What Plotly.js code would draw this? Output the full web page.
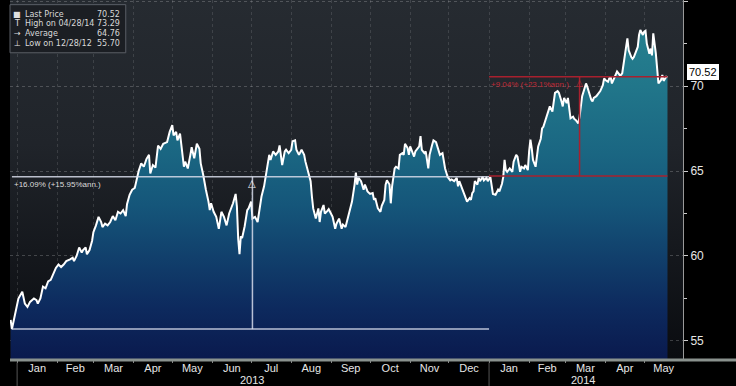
<!DOCTYPE html>
<html>
<head>
<meta charset="utf-8">
<script src="https://cdn.plot.ly/plotly-3.0.1.min.js"></script>
<style>
  html, body { margin: 0; padding: 0; background: #000; }
  #wrap { position: relative; width: 736px; height: 386px; overflow: hidden; }
  #bg { position: absolute; left: 10px; top: 0; width: 673px; height: 359px;
        background: linear-gradient(to bottom, #262b31 0%, #20242a 40%, #15181d 70%, #0a0c10 100%); }
  #chart { position: absolute; left: 0; top: 0; width: 736px; height: 386px; }
</style>
</head>
<body>
<div id="wrap"><div id="bg"></div><div id="chart"></div></div>
<script>
// ---------------- data ----------------
const dates = [
 '2012-12-27','2012-12-28',
 '2013-01-02','2013-01-05','2013-01-07','2013-01-09','2013-01-11','2013-01-14','2013-01-16','2013-01-17','2013-01-19','2013-01-21','2013-01-23','2013-01-25','2013-01-27','2013-01-29','2013-01-31',
 '2013-02-02','2013-02-04','2013-02-06','2013-02-08','2013-02-11','2013-02-13','2013-02-14','2013-02-16','2013-02-18','2013-02-20','2013-02-21','2013-02-23','2013-02-24','2013-02-26','2013-02-28',
 '2013-03-01','2013-03-03','2013-03-05','2013-03-07','2013-03-08','2013-03-10','2013-03-12','2013-03-14','2013-03-16','2013-03-18','2013-03-20','2013-03-22','2013-03-24','2013-03-26','2013-03-27','2013-03-29','2013-03-31',
 '2013-04-02','2013-04-03','2013-04-05','2013-04-07','2013-04-09','2013-04-11','2013-04-13','2013-04-14','2013-04-16','2013-04-18','2013-04-20','2013-04-22','2013-04-24','2013-04-27','2013-04-29',
 '2013-05-01','2013-05-02','2013-05-04','2013-05-05','2013-05-07','2013-05-08','2013-05-10','2013-05-11','2013-05-13','2013-05-15','2013-05-16','2013-05-18','2013-05-20','2013-05-22','2013-05-23','2013-05-25','2013-05-26','2013-05-27','2013-05-29','2013-05-30','2013-05-31',
 '2013-06-02','2013-06-04','2013-06-06','2013-06-07','2013-06-08','2013-06-10','2013-06-12','2013-06-14','2013-06-15','2013-06-17','2013-06-19','2013-06-20','2013-06-21','2013-06-22','2013-06-23','2013-06-24','2013-06-26','2013-06-28','2013-06-29',
 '2013-07-01','2013-07-02','2013-07-04','2013-07-06','2013-07-08','2013-07-09','2013-07-11','2013-07-13','2013-07-15','2013-07-16','2013-07-18','2013-07-20','2013-07-22','2013-07-23','2013-07-25','2013-07-27','2013-07-28','2013-07-30',
 '2013-08-01','2013-08-02','2013-08-04','2013-08-05','2013-08-07','2013-08-09','2013-08-11','2013-08-12','2013-08-14','2013-08-16','2013-08-17','2013-08-18','2013-08-20','2013-08-22','2013-08-23','2013-08-24','2013-08-26','2013-08-27','2013-08-29','2013-08-30',
 '2013-09-02','2013-09-04','2013-09-05','2013-09-07','2013-09-09','2013-09-10','2013-09-12','2013-09-14','2013-09-15','2013-09-17','2013-09-19','2013-09-20','2013-09-21','2013-09-22','2013-09-24','2013-09-26','2013-09-27','2013-09-29',
 '2013-10-01','2013-10-03','2013-10-04','2013-10-05','2013-10-07','2013-10-09','2013-10-10','2013-10-12','2013-10-13','2013-10-14','2013-10-16','2013-10-17','2013-10-18','2013-10-20','2013-10-21','2013-10-23','2013-10-24','2013-10-26','2013-10-27','2013-10-28','2013-10-30','2013-10-31',
 '2013-11-01','2013-11-02','2013-11-04','2013-11-05','2013-11-07','2013-11-08','2013-11-09','2013-11-10','2013-11-12','2013-11-13','2013-11-15','2013-11-16','2013-11-18','2013-11-19','2013-11-21','2013-11-22','2013-11-24','2013-11-26','2013-11-27','2013-11-28','2013-11-30',
 '2013-12-02','2013-12-03','2013-12-05','2013-12-07','2013-12-08','2013-12-09','2013-12-11','2013-12-12','2013-12-14','2013-12-15','2013-12-17','2013-12-18','2013-12-19','2013-12-20','2013-12-21','2013-12-23','2013-12-24','2013-12-25','2013-12-27','2013-12-28','2013-12-30','2013-12-31',
 '2014-01-02','2014-01-03','2014-01-04','2014-01-06','2014-01-08','2014-01-09','2014-01-11','2014-01-12','2014-01-13','2014-01-14','2014-01-15','2014-01-17','2014-01-19','2014-01-20','2014-01-22','2014-01-23','2014-01-25','2014-01-26','2014-01-28','2014-01-29','2014-01-31',
 '2014-02-01','2014-02-02','2014-02-03','2014-02-04','2014-02-06','2014-02-07','2014-02-08','2014-02-10','2014-02-11','2014-02-12','2014-02-14','2014-02-15','2014-02-16','2014-02-17','2014-02-19','2014-02-20','2014-02-21','2014-02-23','2014-02-24','2014-02-26','2014-02-27','2014-02-28',
 '2014-03-02','2014-03-03','2014-03-04','2014-03-05','2014-03-07','2014-03-08','2014-03-09','2014-03-11','2014-03-12','2014-03-13','2014-03-14','2014-03-16','2014-03-17','2014-03-18','2014-03-19','2014-03-21','2014-03-22','2014-03-23','2014-03-25','2014-03-26','2014-03-27','2014-03-28','2014-03-30','2014-03-31',
 '2014-04-01','2014-04-03','2014-04-04','2014-04-05','2014-04-06','2014-04-08','2014-04-09','2014-04-10','2014-04-12','2014-04-13','2014-04-14','2014-04-15','2014-04-17','2014-04-18','2014-04-19','2014-04-21','2014-04-22','2014-04-23','2014-04-24','2014-04-26','2014-04-27','2014-04-28','2014-04-30',
 '2014-05-01','2014-05-02','2014-05-03','2014-05-05','2014-05-06','2014-05-07','2014-05-08','2014-05-10','2014-05-11','2014-05-12','2014-05-14','2014-05-15','2014-05-16','2014-05-18','2014-05-19'
];
const prices = [
 56.24,55.70,
 57.50,57.90,57.20,57.00,57.30,57.50,57.40,57.20,57.50,58.20,58.10,58.50,58.60,59.00,59.30,
 59.50,59.35,59.50,59.70,59.80,59.90,59.70,60.00,60.50,60.20,60.35,60.50,60.10,60.35,60.90,
 61.40,61.80,62.30,62.00,61.70,61.90,61.80,62.00,62.35,62.10,62.60,62.50,62.70,62.35,63.05,63.60,63.90,
 64.00,64.40,65.00,65.45,65.25,65.70,65.95,64.85,65.35,65.20,66.50,66.30,66.60,66.70,67.30,
 67.70,67.10,67.30,66.80,67.20,66.40,65.25,65.55,65.15,65.95,66.40,65.75,66.60,66.30,65.45,64.75,64.20,63.90,63.20,62.70,63.10,
 62.60,62.30,61.60,62.10,62.60,62.30,61.80,62.50,62.70,63.10,63.65,62.90,61.00,60.10,61.15,61.05,61.75,62.70,62.80,
 63.20,62.20,62.30,62.00,62.90,63.50,64.10,65.00,65.95,65.65,66.15,65.95,66.15,66.50,65.35,66.15,66.25,66.05,
 66.25,66.75,66.80,66.25,65.95,66.25,65.95,65.55,65.05,64.40,63.50,62.80,62.20,62.80,62.00,62.60,63.00,62.50,62.65,62.75,
 62.30,61.60,61.90,62.20,61.60,61.85,61.70,62.30,62.50,63.20,64.20,64.90,64.20,64.60,64.40,63.90,64.20,63.80,
 63.65,63.70,63.30,63.40,62.80,62.60,62.95,63.30,64.20,64.45,64.20,63.10,64.10,65.15,65.25,65.15,65.95,66.05,65.95,66.60,66.35,65.95,
 66.45,66.25,65.85,66.15,66.35,66.45,67.05,66.25,66.05,66.15,65.15,65.95,66.55,66.80,66.70,66.45,65.95,66.05,65.65,65.15,64.65,
 64.45,64.50,64.40,64.60,64.10,64.40,64.00,63.90,63.40,63.20,63.40,63.30,63.70,63.80,64.40,64.20,64.60,64.40,64.65,64.45,64.60,64.40,
 64.65,64.25,63.65,63.60,63.90,63.80,64.25,64.65,65.65,65.05,64.95,65.15,64.95,65.55,65.95,65.85,64.95,65.25,65.15,65.35,65.05,
 66.15,66.85,66.35,65.65,65.25,65.95,66.45,66.90,67.50,67.60,68.10,68.30,68.60,68.80,68.50,69.20,69.60,69.70,69.60,69.10,68.80,69.30,
 69.00,69.30,68.60,68.10,68.20,68.05,68.00,67.80,68.20,68.80,69.40,69.90,70.15,69.95,69.65,69.20,69.10,69.30,69.40,69.50,69.65,69.70,70.05,70.45,
 70.35,70.25,70.45,70.55,70.15,70.55,70.75,70.85,70.65,70.65,70.75,71.35,72.30,72.80,72.10,71.70,71.60,71.70,71.90,72.30,73.00,73.29,73.00,
 73.20,73.25,72.50,71.90,72.20,71.80,73.10,71.90,70.95,70.15,70.35,70.65,70.30,70.55,70.52
];

// legend block (top-left)
const legendIcons  = ['■', 'T', '→', '⊥'];
const legendLabels = ['Last Price', 'High on 04/28/14', 'Average', 'Low on 12/28/12'];
const legendValues = ['70.52', '73.29', '64.76', '55.70'];

// measurement tools
const meas1 = {x0: '2012-12-28', x1: '2014-01-01', xv: '2013-07-02', lo: 55.70, hi: 64.66, label: '+16.09% (+15.95%ann.)'};
const meas2 = {x0: '2014-01-01', x1: '2014-05-19', xv: '2014-03-12', lo: 64.70, hi: 70.55, label: '+9.04% (+23.1%ann.)'};
const lastPrice = 70.52;
const yearLabels = [{x: '2013-07-02', text: '2013'}, {x: '2014-03-15', text: '2014'}];
const yearStarts = ['2013-01-01', '2014-01-01'];

// ---------------- chart ----------------
const FONT = 'Liberation Sans, Arial, sans-serif';
const trace = {
  x: dates, y: prices, type: 'scatter', mode: 'lines',
  line: {color: '#ffffff', width: 2},
  fill: 'tozeroy',
  fillgradient: {type: 'vertical', start: 54, stop: 73.3,
    colorscale: [[0, '#0a1a4e'], [0.155, '#0d2a5e'], [0.311, '#11406c'], [0.466, '#15567a'],
                 [0.622, '#1a6682'], [0.829, '#21768a'], [1, '#26808f']]},
  hoverinfo: 'skip', showlegend: false
};

const W = 'rgba(215,220,235,0.85)';
const R = '#a8202e';
const shapes = [
  {type: 'line', xref: 'x', yref: 'y', x0: meas1.x0, x1: meas1.x1, y0: meas1.lo, y1: meas1.lo, line: {color: W, width: 1.5}},
  {type: 'line', xref: 'x', yref: 'y', x0: meas1.x0, x1: meas1.x1, y0: meas1.hi, y1: meas1.hi, line: {color: W, width: 1.5}},
  {type: 'line', xref: 'x', yref: 'y', x0: meas1.xv, x1: meas1.xv, y0: meas1.lo, y1: meas1.hi, line: {color: W, width: 1.5}},
  {type: 'line', xref: 'x', yref: 'y', x0: meas2.x0, x1: meas2.x1, y0: meas2.lo, y1: meas2.lo, line: {color: R, width: 1.5}},
  {type: 'line', xref: 'x', yref: 'y', x0: meas2.x0, x1: meas2.x1, y0: meas2.hi, y1: meas2.hi, line: {color: R, width: 1.5}},
  {type: 'line', xref: 'x', yref: 'y', x0: meas2.xv, x1: meas2.xv, y0: meas2.lo, y1: meas2.hi, line: {color: R, width: 1.5}},
  // bottom gray bar
  {type: 'line', xref: 'paper', yref: 'paper', x0: 0, x1: 1.08, y0: -0.003, y1: -0.003, line: {color: '#8a928e', width: 3}},
  // legend box
  {type: 'rect', xref: 'paper', yref: 'paper', x0: 0.0, x1: 0.172, y0: 0.853, y1: 0.987,
   fillcolor: '#1b1e23', line: {color: '#5a5e66', width: 1}, layer: 'above'}
];
yearStarts.forEach(d => shapes.push({type: 'line', xref: 'x', yref: 'paper', x0: d, x1: d, y0: -0.075, y1: -0.01, line: {color: '#555', width: 1}}));

const annotations = [
  {xref: 'x', yref: 'y', x: meas1.x0, y: meas1.hi, xanchor: 'left', yanchor: 'top', yshift: -1, showarrow: false,
   text: meas1.label, font: {family: FONT, size: 8, color: '#dcdcdc'}},
  {xref: 'x', yref: 'y', x: meas1.xv, y: meas1.hi, xanchor: 'center', yanchor: 'top', yshift: 1, showarrow: false,
   text: '△', font: {family: 'DejaVu Sans', size: 10, color: '#e8e8e8'}},
  {xref: 'x', yref: 'y', x: meas2.x0, y: meas2.hi, xanchor: 'left', yanchor: 'top', yshift: -1, showarrow: false,
   text: meas2.label, font: {family: FONT, size: 8, color: '#c02a36'}},
  {xref: 'x', yref: 'y', x: meas2.xv, y: meas2.hi, xanchor: 'center', yanchor: 'top', yshift: 1, showarrow: false,
   text: '△', font: {family: 'DejaVu Sans', size: 9, color: '#c02a36'}},
  {xref: 'paper', yref: 'y', x: 1, y: lastPrice, xanchor: 'left', yanchor: 'middle', xshift: 4, yshift: 5, showarrow: false,
   text: lastPrice.toFixed(2), bgcolor: '#ffffff', bordercolor: '#ffffff', borderpad: 1,
   font: {family: FONT, size: 11, color: '#000000'}}
];
yearLabels.forEach(o => annotations.push({xref: 'x', yref: 'paper', x: o.x, y: -0.058, yanchor: 'middle', showarrow: false,
   text: o.text, font: {family: FONT, size: 11, color: '#e6e6e6'}}));
const legY = [0.961, 0.934, 0.907, 0.880];
legendLabels.forEach((lab, i) => {
  annotations.push({xref: 'paper', yref: 'paper', x: 0.011, y: legY[i], xanchor: 'center', yanchor: 'middle', showarrow: false,
    text: legendIcons[i], font: {family: 'DejaVu Sans', size: 8, color: '#e0e0e0'}});
  annotations.push({xref: 'paper', yref: 'paper', x: 0.019, y: legY[i], xanchor: 'left', yanchor: 'middle', showarrow: false,
    text: lab, font: {family: 'DejaVu Sans', size: 8, color: '#d8d8d8'}});
  annotations.push({xref: 'paper', yref: 'paper', x: 0.166, y: legY[i], xanchor: 'right', yanchor: 'middle', showarrow: false,
    text: legendValues[i], font: {family: 'DejaVu Sans', size: 8, color: '#d8d8d8'}});
});

const layout = {
  width: 736, height: 386,
  margin: {l: 10, r: 53, t: 0, b: 27, pad: 0},
  paper_bgcolor: 'rgba(0,0,0,0)', plot_bgcolor: 'rgba(0,0,0,0)',
  font: {family: FONT, color: '#e0e0e0'},
  xaxis: {
    type: 'date', range: ['2012-12-26 12:00', '2014-05-31'],
    tick0: '2013-01-01', dtick: 'M1', tickformat: '%b', ticklabelmode: 'period',
    ticks: 'outside', ticklen: 3, tickcolor: '#888', ticklabelstandoff: -4,
    showgrid: true, gridcolor: 'rgba(255,255,255,0.12)', griddash: 'dot', gridwidth: 1,
    zeroline: false, showline: false,
    tickfont: {family: FONT, size: 11, color: '#e6e6e6'}
  },
  yaxis: {
    side: 'right', range: [53.94, 75.06], tick0: 55, dtick: 5,
    ticks: 'outside', ticklen: 4, tickcolor: '#cccccc',
    showline: true, linecolor: '#9a9a9a', linewidth: 1,
    showgrid: true, gridcolor: 'rgba(255,255,255,0.2)', griddash: 'dot',
    zeroline: false,
    minor: {dtick: 2.5, tick0: 55, ticks: 'outside', ticklen: 3, tickcolor: '#cccccc', showgrid: false},
    tickfont: {family: FONT, size: 12, color: '#e6e6e6'}
  },
  shapes: shapes,
  annotations: annotations,
  showlegend: false
};

Plotly.newPlot('chart', [trace], layout, {staticPlot: true, displayModeBar: false});
</script>
</body>
</html>
